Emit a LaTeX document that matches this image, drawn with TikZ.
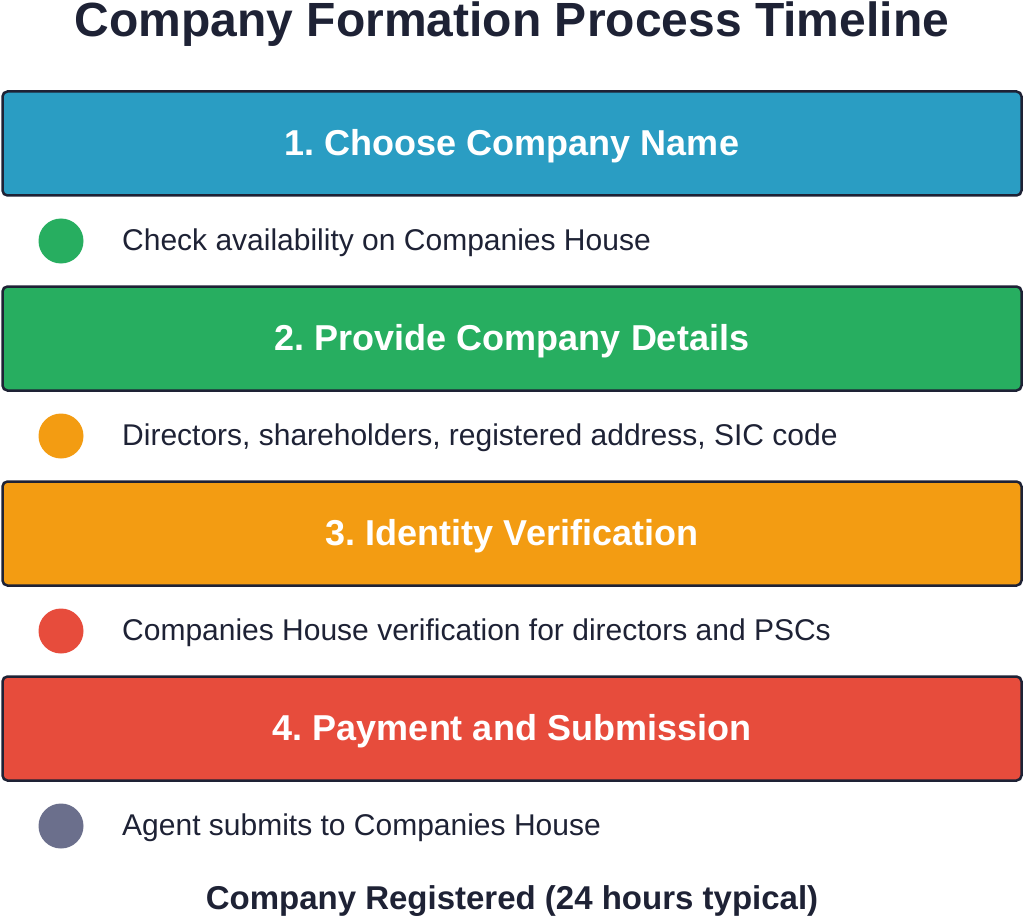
\documentclass[tikz,border=0pt]{standalone}
\usepackage{fontspec}
\setmainfont{Liberation Sans}
\frenchspacing
\definecolor{inkdark}{HTML}{1E2235}
\definecolor{stepblue}{HTML}{2A9DC3}
\definecolor{stepgreen}{HTML}{27AE60}
\definecolor{steporange}{HTML}{F39C12}
\definecolor{stepred}{HTML}{E74C3C}
\definecolor{stepgrey}{HTML}{6B6F8C}
\tikzset{
  stepbox/.style={draw=inkdark, line width=2.5pt, rounded corners=5pt, minimum width=1019pt, minimum height=104pt, inner sep=0pt, text height=24pt, text depth=0pt, text=white, font=\fontsize{36}{42}\selectfont\bfseries},
  stepdot/.style={circle, minimum size=45pt, inner sep=0pt},
  stepnote/.style={anchor=base west, inner sep=0pt, text=inkdark, font=\fontsize{30}{36}\selectfont}
}
\begin{document}
\begin{tikzpicture}[x=1pt,y=-1pt]
  \useasboundingbox (0,0) rectangle (1024,917);

  \node[anchor=base, inner sep=0pt, text=inkdark, font=\fontsize{48}{56}\selectfont\bfseries] (title) at (512,37) {Company Formation Process Timeline};

  \foreach \i/\boxcol/\dotcol/\steptext/\notetext in {
      1/stepblue/stepgreen/{1. Choose Company Name}/{Check availability on Companies House},
      2/stepgreen/steporange/{2. Provide Company Details}/{Directors, shareholders, registered address, SIC code},
      3/steporange/stepred/{3. Identity Verification}/{Companies House verification for directors and PSCs},
      4/stepred/stepgrey/{4. Payment and Submission}/{Agent submits to Companies House}} {
    \node[stepbox, fill=\boxcol] (box\i) at (512, 143.5+195*\i-195) {\steptext};
    \node[stepdot, fill=\dotcol] (dot\i) at (61, 241+195*\i-195) {};
    \node[stepnote] (note\i) at (122, 250+195*\i-195) {\notetext};
  }

  \node[anchor=base, inner sep=0pt, text=inkdark, font=\fontsize{33}{40}\selectfont\bfseries] (done) at (512,909) {Company Registered (24 hours typical)};
\end{tikzpicture}
\end{document}
